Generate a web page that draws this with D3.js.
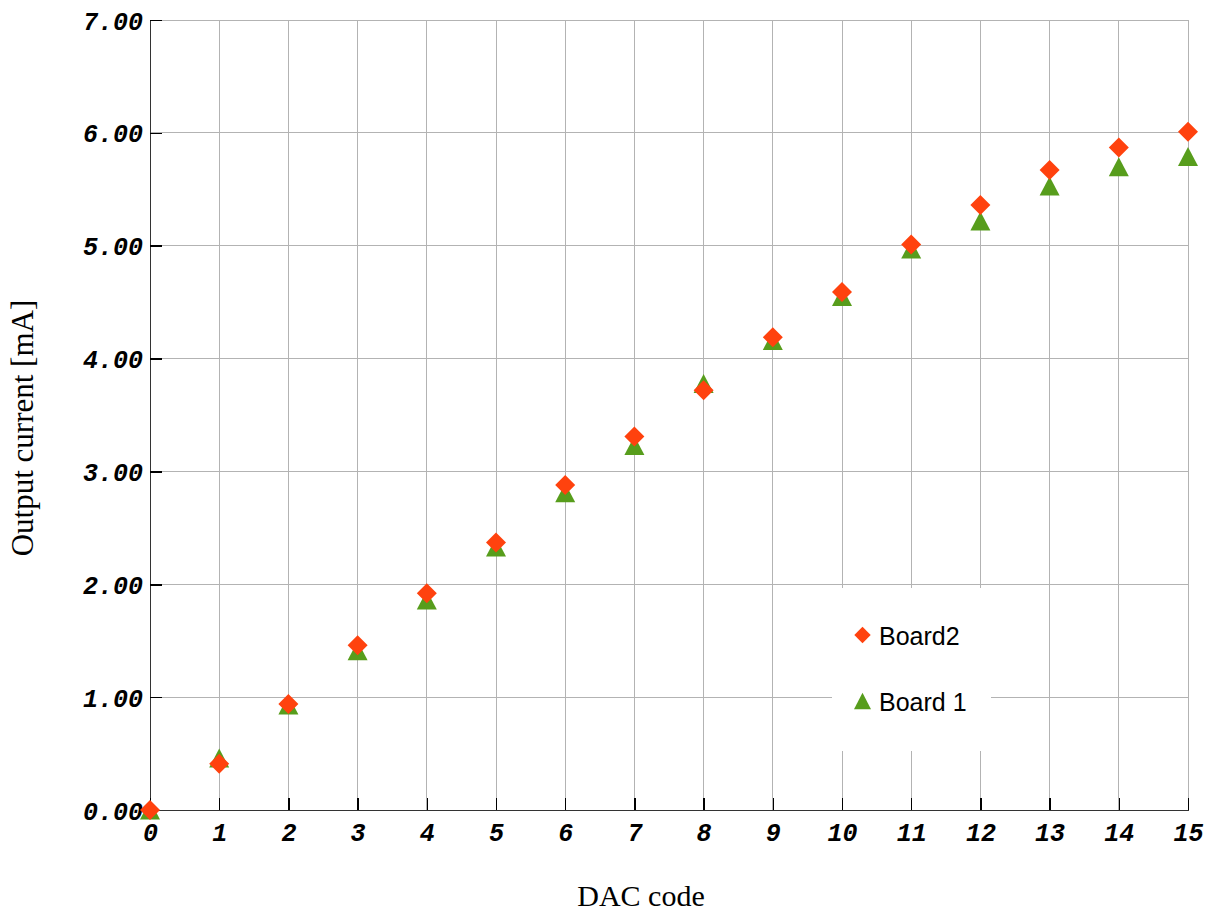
<!DOCTYPE html>
<html>
<head>
<meta charset="utf-8">
<script src="https://cdn.jsdelivr.net/npm/d3@7"></script>
<style>
  html, body { margin: 0; padding: 0; background: #fff; }
  svg { display: block; }
</style>
</head>
<body>
<script>
// DAC code vs. measured output current for two boards
const dacCodes = [0, 1, 2, 3, 4, 5, 6, 7, 8, 9, 10, 11, 12, 13, 14, 15];
const board2 = [0.00, 0.41, 0.94, 1.46, 1.92, 2.37, 2.88, 3.31, 3.72, 4.19, 4.59, 5.01, 5.36, 5.67, 5.87, 6.01];
const board1 = [0.00, 0.46, 0.93, 1.41, 1.86, 2.33, 2.81, 3.23, 3.78, 4.16, 4.55, 4.97, 5.22, 5.53, 5.70, 5.79];
const yTicks = [0, 1, 2, 3, 4, 5, 6, 7];
const seriesNames = ["Board2", "Board 1"];
const seriesColors = ["#ff420e", "#579d1c"];

const W = 1206, H = 912;
const svg = d3.select("body").append("svg").attr("width", W).attr("height", H);

const x = d3.scaleLinear().domain([0, 15]).range([150, 1188]);
const y = d3.scaleLinear().domain([0, 7]).range([810, 20]);

const gridColor = "#b3b3b3";
const tickFont = "'Liberation Mono', 'Courier New', monospace";

// grid
const grid = svg.append("g").attr("shape-rendering", "crispEdges");
grid.selectAll("line.h").data(yTicks).join("line")
  .attr("x1", x(0)).attr("x2", x(15))
  .attr("y1", d => y(d)).attr("y2", d => y(d))
  .attr("stroke", gridColor).attr("stroke-width", 1);
grid.selectAll("line.v").data(dacCodes).join("line")
  .attr("x1", d => x(d)).attr("x2", d => x(d))
  .attr("y1", y(0)).attr("y2", y(7))
  .attr("stroke", gridColor).attr("stroke-width", 1);

// legend background hides the grid beneath it
svg.append("rect")
  .attr("x", 832).attr("y", 588).attr("width", 159).attr("height", 163)
  .attr("fill", "#fff");

// axes
const yAxis = d3.axisLeft(y).tickValues(yTicks).tickFormat(d3.format(".2f"))
  .tickSizeInner(-12).tickSizeOuter(0).tickPadding(7);
const xAxis = d3.axisBottom(x).tickValues(dacCodes).tickFormat(d3.format("d"))
  .tickSizeInner(-12).tickSizeOuter(0).tickPadding(13);

const gy = svg.append("g").attr("transform", `translate(${x(0)},0)`).call(yAxis);
const gx = svg.append("g").attr("transform", `translate(0,${y(0)})`).call(xAxis);

[gx, gy].forEach(g => {
  g.attr("shape-rendering", "crispEdges");
  g.select(".domain").attr("stroke", "#333").attr("stroke-width", 1.5);
  g.selectAll(".tick line").attr("stroke", "#000").attr("stroke-width", 1.5);
  g.selectAll(".tick text")
    .attr("fill", "#000")
    .style("font-family", tickFont)
    .style("font-size", "25px")
    .style("font-weight", "bold")
    .style("font-style", "italic");
});
gy.selectAll(".tick text").attr("dy", "0.36em");
gx.selectAll(".tick text").attr("dy", "0.72em");

// axis titles
svg.append("text")
  .attr("x", 641).attr("y", 906)
  .attr("text-anchor", "middle")
  .style("font-family", "'Liberation Serif', 'Times New Roman', serif")
  .style("font-size", "30px")
  .text("DAC code");
svg.append("text")
  .attr("transform", "translate(33,428) rotate(-90)")
  .attr("text-anchor", "middle")
  .style("font-family", "'Liberation Serif', 'Times New Roman', serif")
  .style("font-size", "31px")
  .text("Output current [mA]");

// marker shapes
const diamond = s => `M0,${-s}L${s},0L0,${s}L${-s},0Z`;
const triangle = (w, h) => `M0,${-h / 2}L${w / 2},${h / 2}L${-w / 2},${h / 2}Z`;

// Board 1 drawn first, Board2 on top
svg.append("g").selectAll("path").data(dacCodes).join("path")
  .attr("transform", (d, i) => `translate(${x(d)},${y(board1[i])})`)
  .attr("d", triangle(20, 19))
  .attr("fill", seriesColors[1]);
svg.append("g").selectAll("path").data(dacCodes).join("path")
  .attr("transform", (d, i) => `translate(${x(d)},${y(board2[i])})`)
  .attr("d", diamond(10))
  .attr("fill", seriesColors[0]);

// legend
const legend = svg.append("g");
const legendRows = [
  { name: seriesNames[0], color: seriesColors[0], shape: diamond(8.2), cy: 635 },
  { name: seriesNames[1], color: seriesColors[1], shape: triangle(17, 16.5), cy: 701 }
];
legendRows.forEach(r => {
  legend.append("path")
    .attr("transform", `translate(862.5,${r.cy})`)
    .attr("d", r.shape)
    .attr("fill", r.color);
  legend.append("text")
    .attr("x", 879).attr("y", r.cy + 9.5)
    .style("font-family", "'Liberation Sans', Arial, sans-serif")
    .style("font-size", "25px")
    .attr("fill", "#000")
    .text(r.name);
});
</script>
</body>
</html>
